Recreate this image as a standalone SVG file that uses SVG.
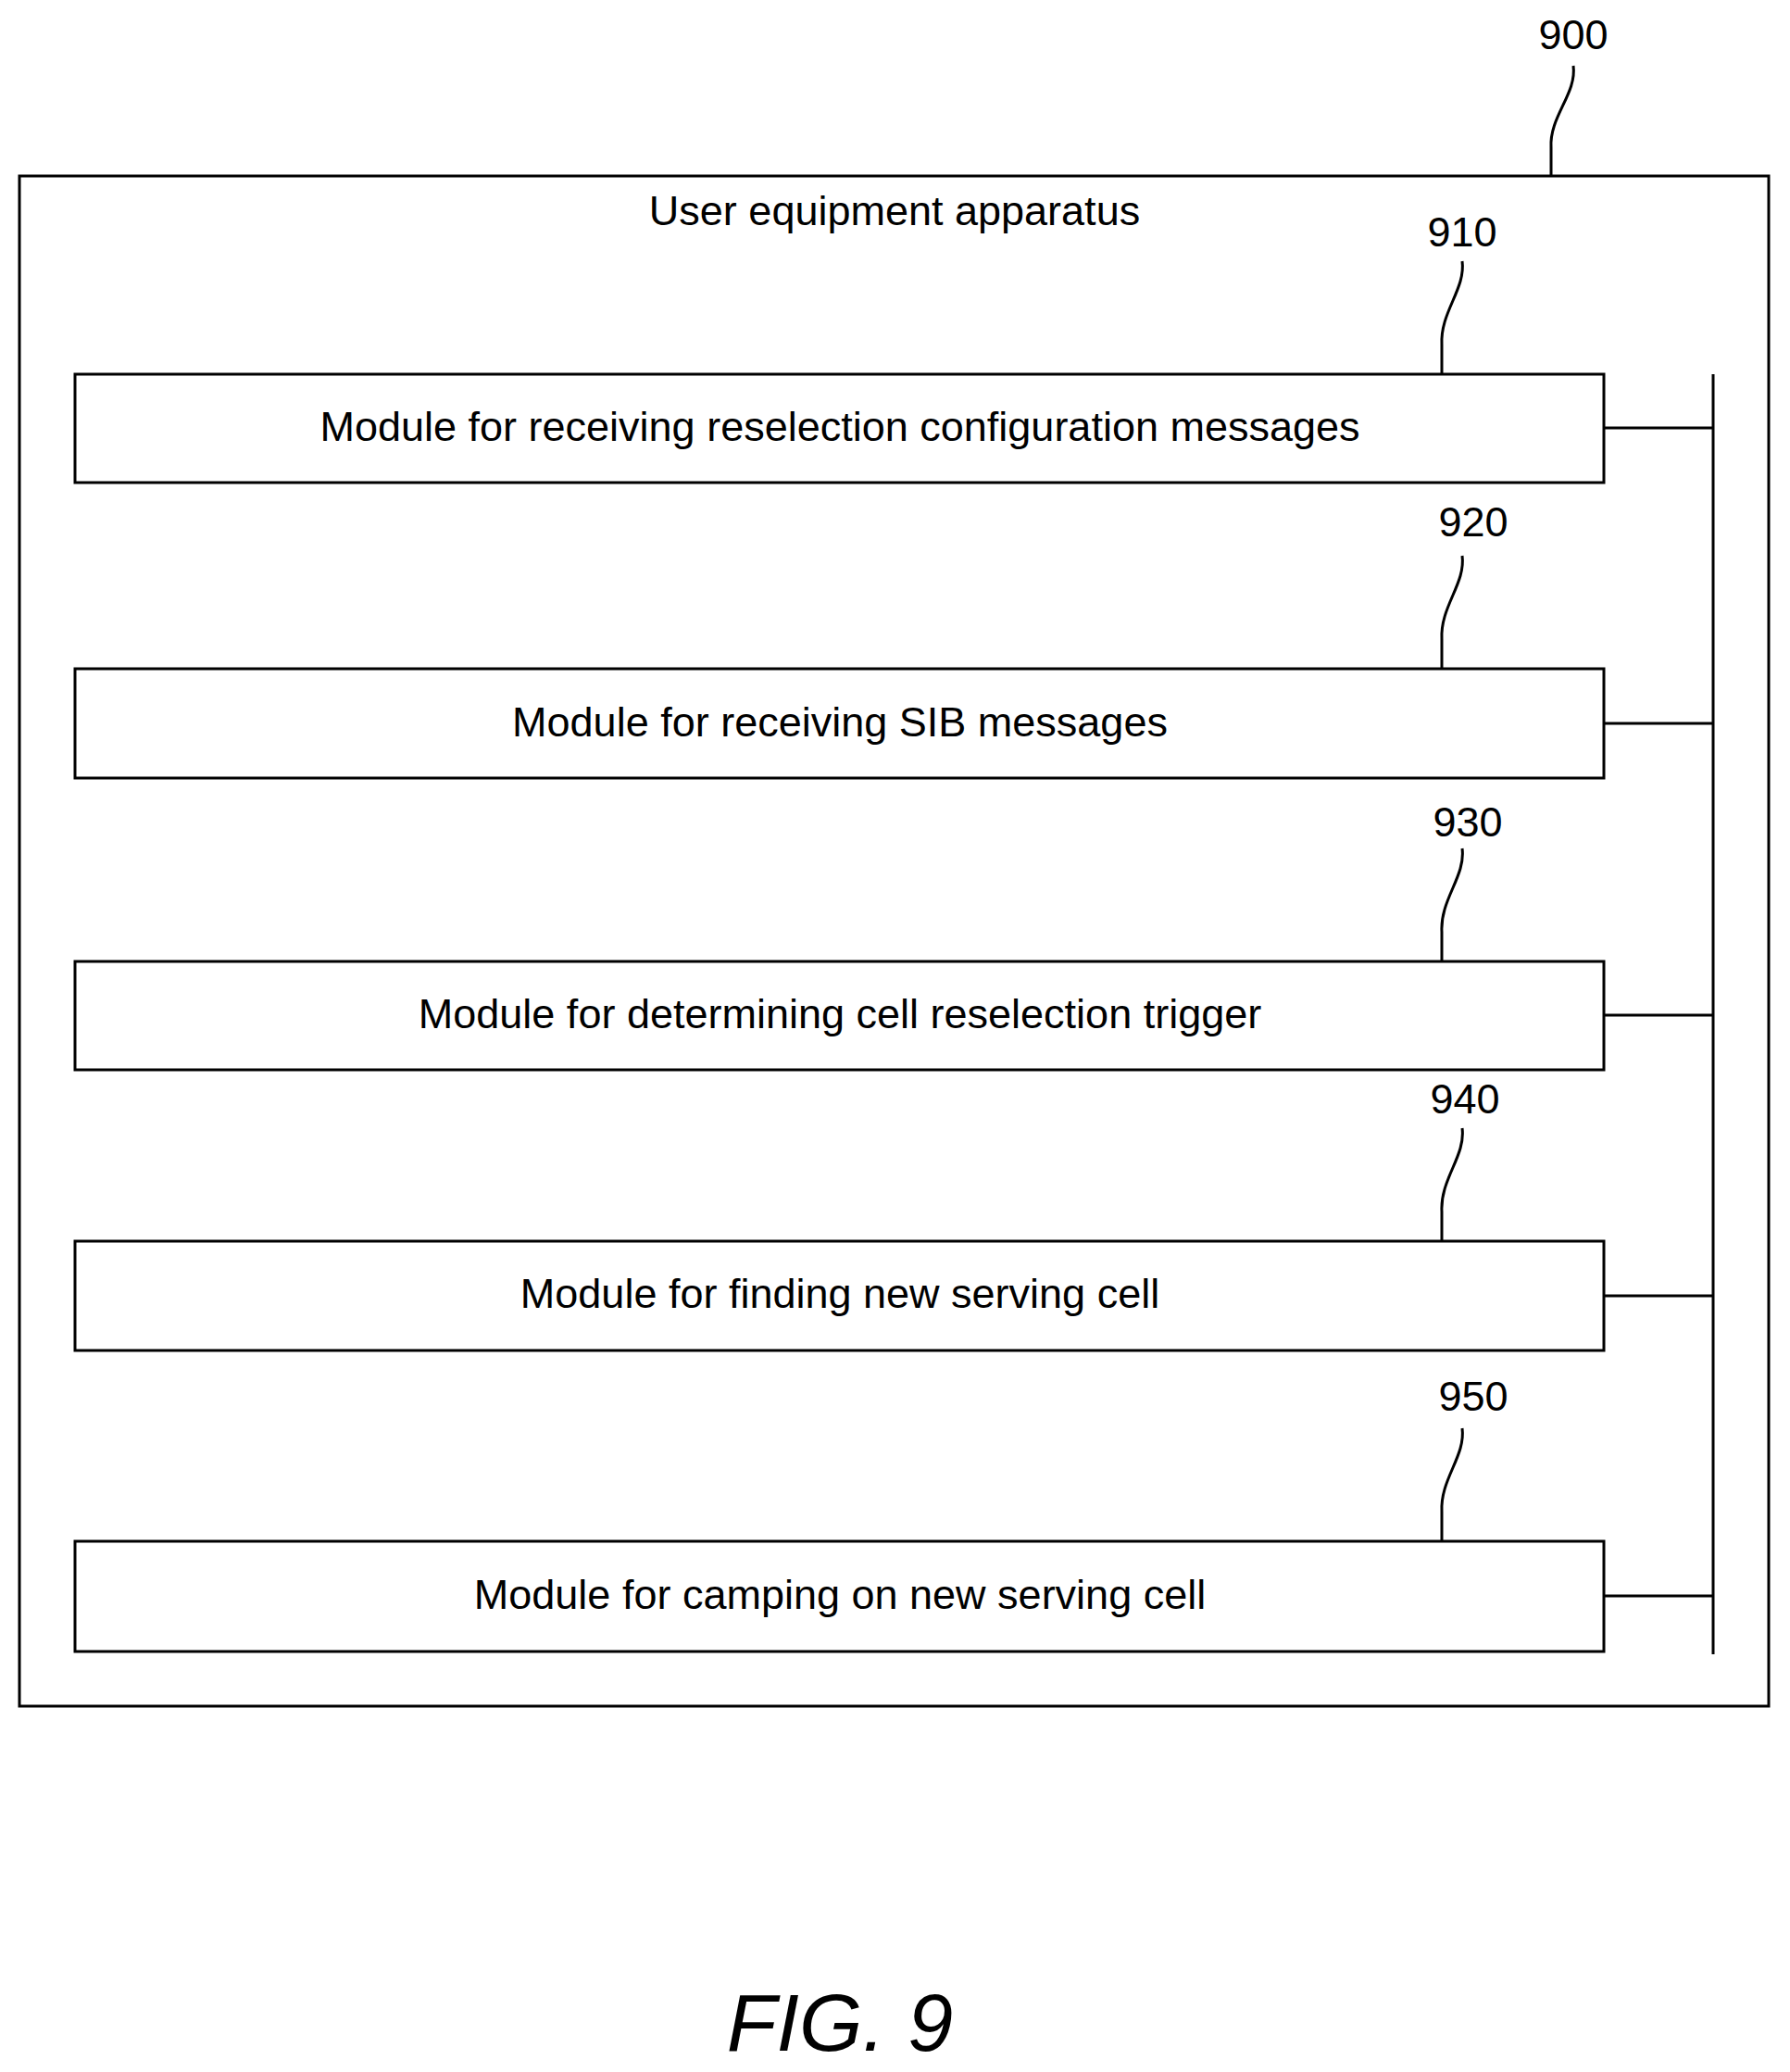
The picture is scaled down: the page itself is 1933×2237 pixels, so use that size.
<svg xmlns="http://www.w3.org/2000/svg" width="1933" height="2237" viewBox="0 0 1933 2237">
<style>
.b{fill:#fff;stroke:#000;stroke-width:3}
.l{fill:none;stroke:#000;stroke-width:3}
text{font-family:"Liberation Sans",Arial,sans-serif;font-size:45px;fill:#000}
.c{text-anchor:middle}
</style>
<rect width="1933" height="2237" fill="#fff"/>
<g id="n900">
<rect class="b" x="21" y="190" width="1889" height="1652"/>
<text class="c" x="966" y="243">User equipment apparatus</text>
<text class="c" x="1699" y="53">900</text>
<path class="l" d="M1699,71 c4,30 -26,55 -24,88 l0,31"/>
</g>
<g id="n910">
<rect class="b" x="81" y="404" width="1651" height="117"/>
<text class="c" x="907" y="476">Module for receiving reselection configuration messages</text>
<text class="c" x="1579" y="266">910</text>
<path class="l" d="M1579,282 c4,30 -24,55 -22,90 l0,32"/>
</g>
<g id="n920">
<rect class="b" x="81" y="722" width="1651" height="118"/>
<text class="c" x="907" y="795">Module for receiving SIB messages</text>
<text class="c" x="1591" y="579">920</text>
<path class="l" d="M1579,600 c4,30 -24,55 -22,90 l0,32"/>
</g>
<g id="n930">
<rect class="b" x="81" y="1038" width="1651" height="117"/>
<text class="c" x="907" y="1110">Module for determining cell reselection trigger</text>
<text class="c" x="1585" y="903">930</text>
<path class="l" d="M1579,916 c4,30 -24,55 -22,90 l0,32"/>
</g>
<g id="n940">
<rect class="b" x="81" y="1340" width="1651" height="118"/>
<text class="c" x="907" y="1412">Module for finding new serving cell</text>
<text class="c" x="1582" y="1202">940</text>
<path class="l" d="M1579,1218 c4,30 -24,55 -22,90 l0,32"/>
</g>
<g id="n950">
<rect class="b" x="81" y="1664" width="1651" height="119"/>
<text class="c" x="907" y="1737">Module for camping on new serving cell</text>
<text class="c" x="1591" y="1523">950</text>
<path class="l" d="M1579,1542 c4,30 -24,55 -22,90 l0,32"/>
</g>
<g id="connectors">
<path class="l" d="M1850,404 V1786 M1732,462 H1850 M1732,781 H1850 M1732,1096 H1850 M1732,1399 H1850 M1732,1723 H1850"/>
</g>
<text class="c" x="907" y="2214" style="font-size:88px;font-style:italic">FIG. 9</text>
</svg>
